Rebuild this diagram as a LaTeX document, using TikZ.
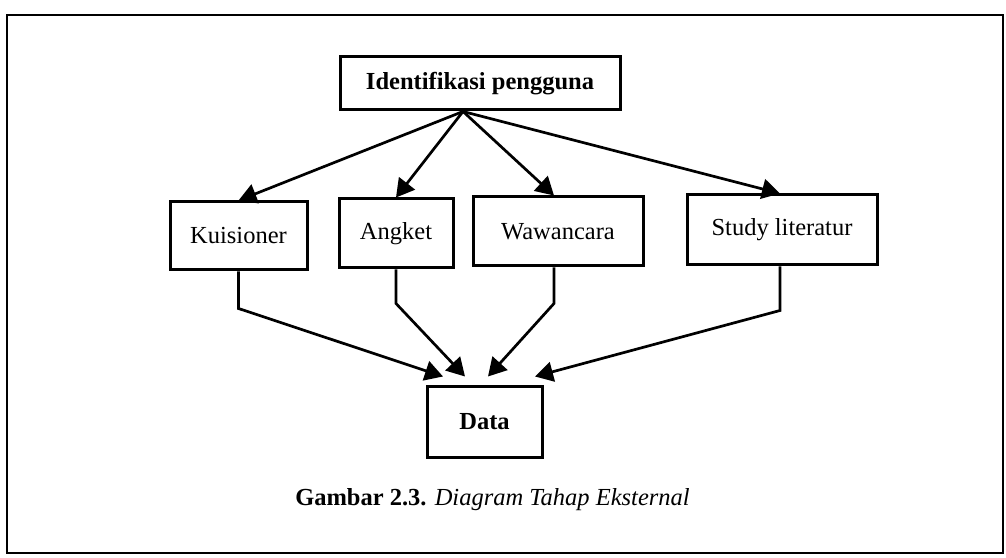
\documentclass[tikz,border=0pt]{standalone}
\usepackage{fontspec}
\setmainfont{Liberation Serif}
\usetikzlibrary{arrows.meta}
\begin{document}
\begin{tikzpicture}[x=1pt,y=1pt,
  box/.style={draw,line width=3pt,rectangle,inner sep=0pt,
    font=\fontsize{24.5}{28}\selectfont},
  link/.style={line width=2.7pt,line join=miter,
    -{Triangle[length=18pt,width=20pt]}}]
\useasboundingbox (0,0) rectangle (1006,557);
% outer frame
\draw[line width=2.6pt] (7,4) rectangle (1003,542);

% nodes
\node[box,minimum width=280pt,minimum height=53pt,font=\fontsize{24.5}{28}\selectfont\bfseries]
  (ident) at (480,473.5) {Identifikasi pengguna};
\node[box,minimum width=137pt,minimum height=68pt] (kuis) at (238.5,321) {Kuisioner};
\node[box,minimum width=114pt,minimum height=69pt] (angket) at (396,323.5) {Angket};
\node[box,minimum width=170pt,minimum height=69pt] (wawan) at (558,325.5) {Wawancara};
\node[box,minimum width=190pt,minimum height=70pt] (study) at (782,327) {Study literatur};
\node[box,minimum width=115pt,minimum height=70pt,font=\fontsize{24.5}{28}\selectfont\bfseries]
  (data) at (484.5,135) {Data};

% fan-out point under the top box and arrow ends above Data
\coordinate (hub) at ([xshift=-17pt]ident.south);
\coordinate (t1) at ([shift={(-41.5,9)}]data.north);
\coordinate (t2) at ([shift={(-19.5,9)}]data.north);
\coordinate (t3) at ([shift={(3.5,9)}]data.north);
\coordinate (t4) at ([shift={(50.5,9)}]data.north);

% top connectors
\draw[link] (hub) -- (kuis.north);
\draw[link] (hub) -- (angket.north);
\draw[link] (hub) -- ([xshift=-4pt]wawan.north);
\draw[link] (hub) -- ([xshift=-2pt]study.north);

% bottom connectors
\draw[link] (kuis.south) -- ++(0,-37) -- (t1);
\draw[link] (angket.south) -- ++(0,-34) -- (t2);
\draw[link] ([xshift=-4pt]wawan.south) -- ++(0,-36) -- (t3);
\draw[link] ([xshift=-2pt]study.south) -- ++(0,-44) -- (t4);

% caption
\node[font=\fontsize{24.5}{28}\selectfont] (cap) at (492.5,57)
  {\textbf{Gambar 2.3.} \textit{Diagram Tahap Eksternal}};
\end{tikzpicture}
\end{document}
